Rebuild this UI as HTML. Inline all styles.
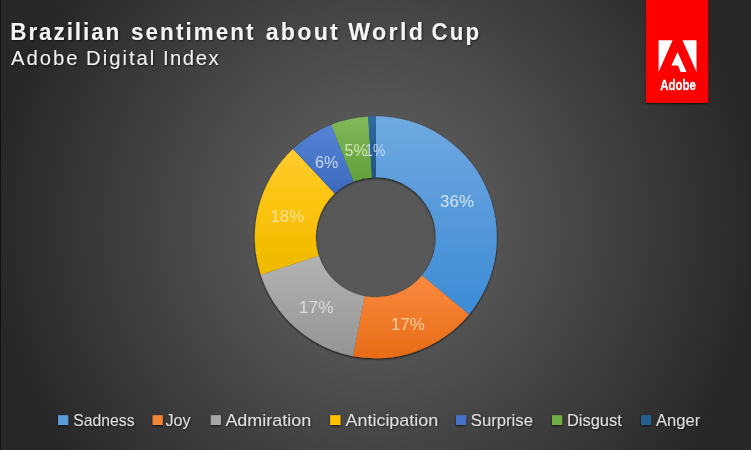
<!DOCTYPE html>
<html><head><meta charset="utf-8"><title>Brazilian sentiment about World Cup</title>
<style>
html,body{margin:0;padding:0;}
body{width:751px;height:450px;overflow:hidden;background:#2b2b2b;font-family:"Liberation Sans",sans-serif;}
#bg{position:absolute;left:0;top:0;width:751px;height:450px;
background:radial-gradient(ellipse 386px 398px at 375.5px 225px, #585858 0%, #575757 23.8%, #535353 32.6%, #272727 100%);border-left:1px solid #111;box-sizing:border-box;}
svg{position:absolute;left:0;top:0;}
.t1{font:bold 23.3px "Liberation Sans",sans-serif;fill:#f4f4f4;}
.t2{font:19.5px "Liberation Sans",sans-serif;fill:#f0f0f0;}
.dl{font:17.4px "Liberation Sans",sans-serif;}
.lg{font:15.7px "Liberation Sans",sans-serif;fill:#e0e0e0;}
.ad{font:bold 15.4px "Liberation Sans",sans-serif;fill:#fff;}
</style></head>
<body>
<div id="bg"></div>
<svg width="751" height="450" viewBox="0 0 751 450">
<defs>
<linearGradient id="gSadness" x1="0" y1="0" x2="0" y2="1"><stop offset="0" stop-color="#6fa9e0"/><stop offset="0.5" stop-color="#5699db"/><stop offset="1" stop-color="#3c8bd6"/></linearGradient>
<linearGradient id="gJoy" x1="0" y1="0" x2="0" y2="1"><stop offset="0" stop-color="#fb8a40"/><stop offset="0.5" stop-color="#f17b2b"/><stop offset="1" stop-color="#e66c16"/></linearGradient>
<linearGradient id="gAdmiration" x1="0" y1="0" x2="0" y2="1"><stop offset="0" stop-color="#b3b3b3"/><stop offset="0.5" stop-color="#a4a4a4"/><stop offset="1" stop-color="#949494"/></linearGradient>
<linearGradient id="gAnticipation" x1="0" y1="0" x2="0" y2="1"><stop offset="0" stop-color="#ffcb30"/><stop offset="0.5" stop-color="#fbc30a"/><stop offset="1" stop-color="#edb900"/></linearGradient>
<linearGradient id="gSurprise" x1="0" y1="0" x2="0" y2="1"><stop offset="0" stop-color="#5683d6"/><stop offset="0.5" stop-color="#4976c9"/><stop offset="1" stop-color="#3c69bc"/></linearGradient>
<linearGradient id="gDisgust" x1="0" y1="0" x2="0" y2="1"><stop offset="0" stop-color="#82b95c"/><stop offset="0.5" stop-color="#72ac4b"/><stop offset="1" stop-color="#629f3a"/></linearGradient>
<linearGradient id="gAnger" x1="0" y1="0" x2="0" y2="1"><stop offset="0" stop-color="#2f6ba3"/><stop offset="0.5" stop-color="#276094"/><stop offset="1" stop-color="#1f5684"/></linearGradient>
<filter id="sh" x="-10%" y="-10%" width="120%" height="120%"><feGaussianBlur in="SourceAlpha" stdDeviation="1.2"/><feOffset dx="0.3" dy="0.7"/><feComponentTransfer><feFuncA type="linear" slope="0.8"/></feComponentTransfer><feMerge><feMergeNode/><feMergeNode in="SourceGraphic"/></feMerge></filter>
<filter id="sq" x="-30%" y="-30%" width="160%" height="160%"><feGaussianBlur in="SourceAlpha" stdDeviation="0.9"/><feOffset dx="0.3" dy="0.5"/><feComponentTransfer><feFuncA type="linear" slope="0.7"/></feComponentTransfer><feMerge><feMergeNode/><feMergeNode in="SourceGraphic"/></feMerge></filter>
<filter id="ls" x="-5%" y="-30%" width="110%" height="160%"><feGaussianBlur in="SourceAlpha" stdDeviation="0.8"/><feOffset dx="0.5" dy="1"/><feComponentTransfer><feFuncA type="linear" slope="0.5"/></feComponentTransfer><feMerge><feMergeNode/><feMergeNode in="SourceGraphic"/></feMerge></filter>
<filter id="ts" x="-5%" y="-30%" width="110%" height="160%"><feGaussianBlur in="SourceAlpha" stdDeviation="1"/><feOffset dx="1" dy="1"/><feComponentTransfer><feFuncA type="linear" slope="0.6"/></feComponentTransfer><feMerge><feMergeNode/><feMergeNode in="SourceGraphic"/></feMerge></filter>
</defs>
<text id="t1" y="39.7" class="t1" filter="url(#ts)" transform="scale(0.94 1)"><tspan x="10.90" letter-spacing="2.000" textLength="118.09" lengthAdjust="spacingAndGlyphs">Brazilian</tspan> <tspan x="139.36" letter-spacing="2.200" textLength="132.66" lengthAdjust="spacingAndGlyphs">sentiment</tspan> <tspan x="282.71" letter-spacing="2.200" textLength="78.94" lengthAdjust="spacingAndGlyphs">about</tspan> <tspan x="370.48" letter-spacing="2.400" textLength="82.07" lengthAdjust="spacingAndGlyphs">World</tspan> <tspan x="459.04" letter-spacing="2.300" textLength="52.98" lengthAdjust="spacingAndGlyphs">Cup</tspan></text>
<text id="t2" y="64.7" class="t2" filter="url(#ts)" transform="scale(1.04 1)"><tspan x="10.67" letter-spacing="1.873">Adobe</tspan> <tspan x="82.69" letter-spacing="1.933">Digital</tspan> <tspan x="156.68" letter-spacing="1.452">Index</tspan></text>
<g filter="url(#sh)">
<path d="M375.80 116.30A121.0 121.0 0 0 1 469.03 314.43L422.03 275.55A60.0 60.0 0 0 0 375.80 177.30Z" fill="url(#gSadness)"/>
<path d="M469.03 314.43A121.0 121.0 0 0 1 353.13 356.16L364.56 296.24A60.0 60.0 0 0 0 422.03 275.55Z" fill="url(#gJoy)"/>
<path d="M353.13 356.16A121.0 121.0 0 0 1 260.72 274.69L318.74 255.84A60.0 60.0 0 0 0 364.56 296.24Z" fill="url(#gAdmiration)"/>
<path d="M260.72 274.69A121.0 121.0 0 0 1 292.97 149.09L334.73 193.56A60.0 60.0 0 0 0 318.74 255.84Z" fill="url(#gAnticipation)"/>
<path d="M292.97 149.09A121.0 121.0 0 0 1 331.26 124.80L353.71 181.51A60.0 60.0 0 0 0 334.73 193.56Z" fill="url(#gSurprise)"/>
<path d="M331.26 124.80A121.0 121.0 0 0 1 368.20 116.54L372.03 177.42A60.0 60.0 0 0 0 353.71 181.51Z" fill="url(#gDisgust)"/>
<path d="M368.20 116.54A121.0 121.0 0 0 1 375.80 116.30L375.80 177.30A60.0 60.0 0 0 0 372.03 177.42Z" fill="url(#gAnger)"/>
</g>
<text x="440.1" y="206.5" fill="#d2e4f6" class="dl" textLength="33.8" lengthAdjust="spacingAndGlyphs">36%</text>
<text x="391.0" y="330.3" fill="#fbd0a4" class="dl" textLength="33.8" lengthAdjust="spacingAndGlyphs">17%</text>
<text x="298.8" y="312.8" fill="#dcdcdc" class="dl" textLength="34.8" lengthAdjust="spacingAndGlyphs">17%</text>
<text x="270.4" y="222.1" fill="#fde09c" class="dl" textLength="33.8" lengthAdjust="spacingAndGlyphs">18%</text>
<text x="315.1" y="168.0" fill="#cad9f2" class="dl" textLength="23.4" lengthAdjust="spacingAndGlyphs">6%</text>
<text x="344.5" y="156.0" fill="#cfe8b4" class="dl" textLength="23.1" lengthAdjust="spacingAndGlyphs">5%</text>
<text x="365.3" y="156.0" fill="#c0d4eb" class="dl" textLength="20.0" lengthAdjust="spacingAndGlyphs">1%</text>
<rect x="58" y="415.2" width="10.2" height="9.8" fill="#5a9bd9" filter="url(#sq)"/>
<text id="lgSadness" x="73.30" y="425.8" class="lg" filter="url(#ls)" textLength="61.23" lengthAdjust="spacingAndGlyphs">Sadness</text>
<rect x="152.6" y="415.2" width="10.2" height="9.8" fill="#f38335" filter="url(#sq)"/>
<text id="lgJoy" x="165.55" y="425.8" class="lg" filter="url(#ls)" textLength="25.06" lengthAdjust="spacingAndGlyphs">Joy</text>
<rect x="210.8" y="415.2" width="10.2" height="9.8" fill="#a5a5a5" filter="url(#sq)"/>
<text id="lgAdmiration" x="225.40" y="425.8" class="lg" filter="url(#ls)" textLength="85.77" lengthAdjust="spacingAndGlyphs">Admiration</text>
<rect x="330.2" y="415.2" width="10.2" height="9.8" fill="#ffc000" filter="url(#sq)"/>
<text id="lgAnticipation" x="345.55" y="425.8" class="lg" filter="url(#ls)" textLength="92.67" lengthAdjust="spacingAndGlyphs">Anticipation</text>
<rect x="456.0" y="415.2" width="10.2" height="9.8" fill="#4472c4" filter="url(#sq)"/>
<text id="lgSurprise" x="470.75" y="425.8" class="lg" filter="url(#ls)" textLength="62.19" lengthAdjust="spacingAndGlyphs">Surprise</text>
<rect x="552.0" y="415.2" width="10.2" height="9.8" fill="#70ad47" filter="url(#sq)"/>
<text id="lgDisgust" x="566.90" y="425.8" class="lg" filter="url(#ls)" textLength="54.94" lengthAdjust="spacingAndGlyphs">Disgust</text>
<rect x="641.0" y="415.2" width="10.2" height="9.8" fill="#255e91" filter="url(#sq)"/>
<text id="lgAnger" x="656.00" y="425.8" class="lg" filter="url(#ls)" textLength="44.25" lengthAdjust="spacingAndGlyphs">Anger</text>
<g filter="url(#sh)"><rect x="645.9" y="-5" width="62.3" height="107.8" fill="#fc0000"/></g>
<g transform="translate(658.6 38.2) scale(1.579 1.492)" fill="#fff">
<path d="M13.966 22.624l-1.69-4.281H8.122l3.892-9.144 5.662 13.425zM8.884 1.376H0v21.248zm15.116 0h-8.884L24 22.624z"/>
</g>
<text id="ad" x="660.3" y="89.6" class="ad" textLength="35.6" lengthAdjust="spacingAndGlyphs" stroke="#fff" stroke-width="0.35">Adobe</text>
</svg>
</body></html>
